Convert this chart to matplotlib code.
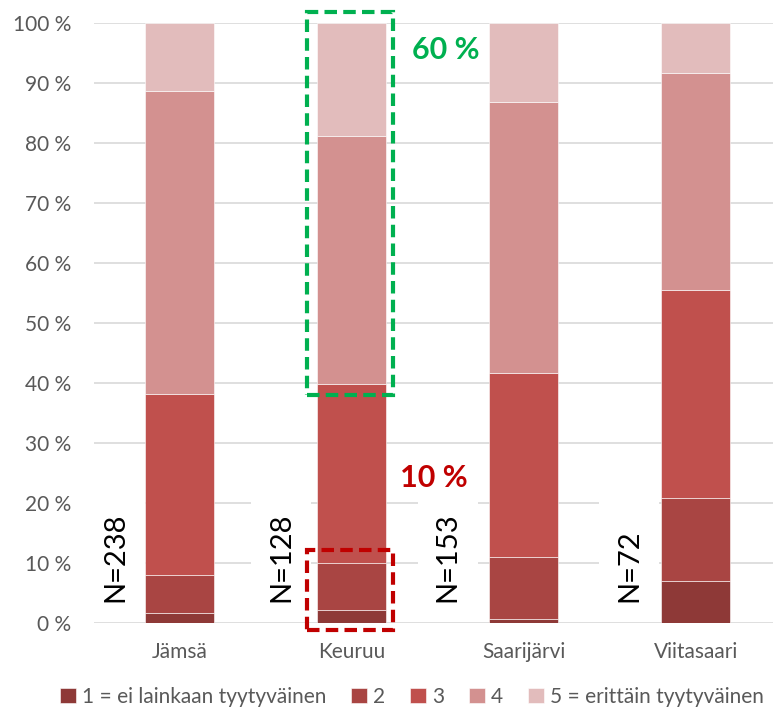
import matplotlib.pyplot as plt
import numpy as np
from matplotlib.patches import Rectangle

# data (percent of respondents)
kunnat = ['Jämsä', 'Keuruu', 'Saarijärvi', 'Viitasaari']
n_labels = ['N=238', 'N=128', 'N=153', 'N=72']
taso1 = [1.7, 2.2, 0.6, 6.9]
taso2 = [6.3, 7.8, 10.3, 13.9]
taso3 = [30.2, 29.8, 30.8, 34.6]
taso4 = [50.5, 41.4, 45.1, 36.2]
taso5 = [11.3, 18.8, 13.2, 8.4]
series_labels = ['1 = ei lainkaan tyytyväinen', '2', '3', '4', '5 = erittäin tyytyväinen']
colors = ['#8E3937', '#A94543', '#C0504D', '#D39190', '#E2BCBC']

plt.rcParams['font.family'] = ['Lato', 'DejaVu Sans']
grey = '#595959'

fig = plt.figure(figsize=(7.73, 7.18), dpi=100)
ax = fig.add_axes([93.5 / 773, 1 - 622.7 / 718, (773 - 93.5) / 773, 600 / 718])

x = np.arange(len(kunnat))
bottom = np.zeros(len(kunnat))
for vals, color, label in zip([taso1, taso2, taso3, taso4, taso5], colors, series_labels):
    ax.bar(x, vals, width=0.4, bottom=bottom, color=color, label=label,
           edgecolor='white', linewidth=0.4, zorder=3)
    bottom += np.array(vals)

ax.set_xlim(-0.5, 3.45)
ax.set_ylim(0, 100)
ax.set_yticks(np.arange(0, 101, 10))
ax.set_yticklabels([f'{v} %' for v in range(0, 101, 10)])
ax.set_xticks(x)
ax.set_xticklabels(kunnat)
ax.tick_params(axis='both', length=0, labelsize=15, labelcolor=grey)
ax.tick_params(axis='y', pad=16)
ax.tick_params(axis='x', pad=14)
ax.yaxis.grid(True, color='#D9D9D9', linewidth=1.2, zorder=0)
ax.set_axisbelow(True)
for s in ax.spines.values():
    s.set_visible(False)

# N labels in white boxes left of each bar
n_offsets = [-0.375, -0.41, -0.44, -0.387]
for i, (lab, off) in enumerate(zip(n_labels, n_offsets)):
    ax.add_patch(Rectangle((i + off - 0.175, 3), 0.35, 23.5, facecolor='white',
                           edgecolor='none', zorder=2))
    ax.text(i + off, 3.4, lab, rotation=90, ha='center', va='bottom',
            fontsize=21, color='black', zorder=4)

# highlight boxes around Keuruu
ax.add_patch(Rectangle((0.74, 37.9), 0.503, 63.9, fill=False, edgecolor='#00B050',
                       linewidth=3, linestyle=(0, (3, 1.5)), zorder=5, clip_on=False))
ax.add_patch(Rectangle((0.74, -1.2), 0.503, 13.3, fill=False, edgecolor='#C00000',
                       linewidth=3, linestyle=(0, (3, 1.5)), zorder=5, clip_on=False))
ax.text(1.352, 95.4, '60 %', color='#00B050', fontsize=22, fontweight='bold',
        ha='left', va='center')
ax.text(1.282, 24.2, '10 %', color='#C00000', fontsize=22, fontweight='bold',
        ha='left', va='center')

fig.legend(loc='center', bbox_to_anchor=(412 / 773, 1 - 697 / 718), ncol=5,
           frameon=False, fontsize=15, labelcolor=grey, handlelength=0.75,
           handleheight=0.75, handletextpad=0.3, columnspacing=1.2)

fig.savefig('out.png', dpi=100)
